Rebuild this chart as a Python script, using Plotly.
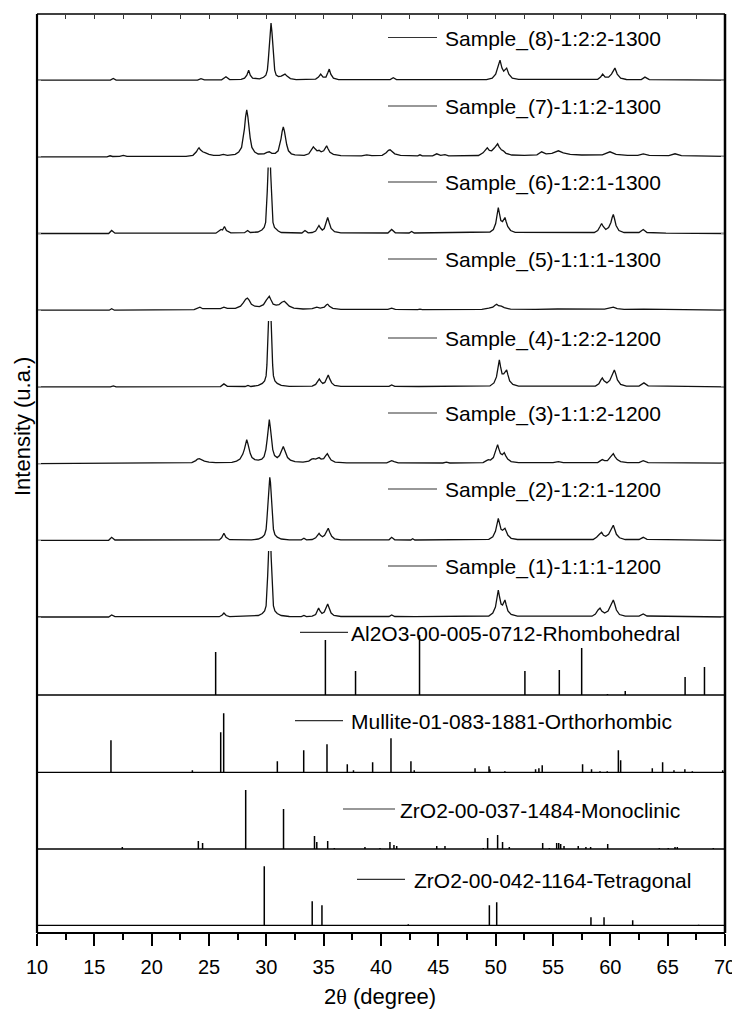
import plotly.graph_objects as go

# ---------------- data (2theta in degrees, intensity in arbitrary units) ----------------
sample_names = ["Sample_(1)-1:1:1-1200", "Sample_(2)-1:2:1-1200", "Sample_(3)-1:1:2-1200",
                "Sample_(4)-1:2:2-1200", "Sample_(5)-1:1:1-1300", "Sample_(6)-1:2:1-1300",
                "Sample_(7)-1:1:2-1300", "Sample_(8)-1:2:2-1300"]

s1 = [(10,0),(16.25,0),(16.51,2),(16.8,0.3),(25.9,0.3),(26.15,2),(26.3,4),(26.5,1.5),(26.8,0.3),
      (29.3,1.5),(29.65,3.5),(29.85,6),(29.98,11),(30.05,22),(30.12,42),(30.18,60),(30.24,85),(30.3,100),
      (30.36,85),(30.42,60),(30.48,42),(30.55,22),(30.62,11),(30.75,6),(30.95,3.5),(31.3,1.5),(32,0.5),
      (33.05,0.3),(33.28,1.5),(33.5,0.3),(34.0,0.8),(34.3,2.5),(34.45,6),(34.56,9),(34.68,6),(34.85,3.5),
      (35.05,5),(35.22,10),(35.35,13),(35.48,9),(35.65,4),(35.9,1.5),(36.5,0.5),
      (40.7,0.5),(40.93,2),(41.2,0.5),(42.6,0.3),(42.76,1),(42.95,0.3),
      (49.4,1),(49.75,4),(49.98,10),(50.12,20),(50.23,27),(50.34,20),(50.47,13),(50.6,12),(50.71,15),
      (50.81,17),(50.92,12),(51.07,6),(51.35,2.5),(51.9,0.8),
      (58.4,0.8),(58.7,3),(58.93,7),(59.1,9),(59.25,6),(59.5,4),(59.8,6),(60.02,11),(60.15,15),(60.26,17),
      (60.38,13),(60.53,7),(60.8,2.5),(61.3,0.8),(62.5,0.8),(62.87,3),(63.2,1),(70,0)]

s2 = [(10,0),(16.25,0),(16.51,3),(16.8,0.3),(25.9,0.4),(26.1,2.5),(26.3,7),(26.48,3),(26.8,0.6),
      (28.2,0.4),(28.43,1),(28.7,0.4),
      (29.3,1.3),(29.65,3.2),(29.85,5.7),(29.98,11),(30.05,21),(30.12,35),(30.18,47),(30.24,58),(30.3,63),
      (30.36,58),(30.42,47),(30.48,35),(30.55,21),(30.62,11),(30.75,5.7),(30.95,3.2),(31.3,1.3),(32,0.5),
      (33.05,0.4),(33.28,2),(33.5,0.4),
      (34.0,0.8),(34.3,2.5),(34.47,5),(34.6,7),(34.72,5),(34.9,3.5),(35.08,5),(35.27,10),(35.4,12),
      (35.53,8),(35.7,4),(35.95,1.5),(36.5,0.5),
      (40.7,0.5),(40.93,3),(41.2,0.5),(42.6,0.3),(42.76,1.5),(42.95,0.3),
      (49.4,1),(49.75,3.5),(49.98,9),(50.12,17),(50.23,22),(50.34,17),(50.47,11),(50.6,10),(50.71,11.5),
      (50.81,12),(50.92,9),(51.07,5),(51.35,2),(51.9,0.8),
      (58.5,0.8),(58.8,3),(59.05,6),(59.24,8),(59.4,5),(59.6,4),(59.85,6),(60.05,10),(60.16,13.5),
      (60.26,15),(60.38,11),(60.53,6),(60.8,2.5),(61.3,0.8),(62.5,0.8),(62.87,3),(63.2,1),(70,0)]

s3 = [(10,0),(22.5,0.3),(23.5,1),(23.85,3),(24.0,4.5),(24.16,5),(24.35,4),(24.6,2.5),(25.0,1.5),(25.6,1),
      (27.0,1.2),(27.4,2.5),(27.7,4.5),(27.95,9.5),(28.09,14.5),(28.19,20),(28.29,24),(28.39,20),
      (28.49,14.5),(28.6,10),(28.75,6),(29.0,4),(29.3,3.5),(29.6,4.5),(29.8,7),(29.96,14),(30.08,25),
      (30.17,36),(30.26,44),(30.35,36),(30.44,25),(30.56,14),(30.72,8),(30.95,6),(31.15,8),(31.3,12),
      (31.4,15),(31.48,17),(31.58,14),(31.7,10),(31.85,6),(32.1,3.5),(32.5,2),(33.2,1.5),(33.7,2.5),
      (33.95,4.5),(34.1,5),(34.3,4.5),(34.45,5.5),(34.6,6),(34.78,4.5),(35.0,5),(35.18,8),(35.32,10),
      (35.46,7),(35.65,3.5),(36.0,1.5),(37,0.8),(40.5,0.8),(40.75,2),(40.93,3),(41.15,2),(41.5,0.8),
      (45.4,0.6),(45.7,1.5),(46.0,0.6),(48.9,1),(49.2,3),(49.36,4),(49.55,3.5),(49.8,6),(50.0,13),
      (50.1,17),(50.17,19),(50.27,15),(50.42,10),(50.58,9),(50.68,10.5),(50.75,11),(50.87,8),(51.05,4.5),
      (51.35,2),(52,1),(55.0,1),(55.47,2),(55.9,1),(58.9,1),(59.15,3),(59.3,4),(59.5,3),(59.75,3),
      (60.0,6.5),(60.15,9),(60.26,10),(60.4,7),(60.6,4),(60.9,2),(61.5,1),(62.5,1),(62.87,3),(63.3,1),
      (70,0.5)]

s4 = [(10,0),(16.4,0),(16.66,1),(16.9,0),(26.0,0.3),(26.3,3),(26.6,0.5),(28.15,0.4),(28.4,1.5),(28.65,0.4),
      (29.3,1.5),(29.65,3.5),(29.85,6),(29.98,11),(30.05,22),(30.12,42),(30.18,60),(30.24,85),(30.3,100),
      (30.36,85),(30.42,60),(30.48,42),(30.55,22),(30.62,11),(30.75,6),(30.95,3.5),(31.3,1.5),(32,0.5),
      (34.0,0.8),(34.3,2.5),(34.5,5.5),(34.62,8),(34.75,5.5),(34.92,3.5),(35.1,4.5),(35.28,9.5),(35.4,12),
      (35.53,8),(35.7,4),(35.95,1.5),(36.5,0.5),
      (40.7,0.5),(40.93,2),(41.2,0.5),(42.9,0.4),(43.1,1),(43.3,0.4),
      (49.5,1),(49.85,4),(50.07,10),(50.21,20),(50.32,27),(50.43,20),(50.56,13),(50.7,13),(50.85,16),
      (50.96,17),(51.07,12),(51.22,6),(51.5,2.5),(52,0.8),
      (58.7,0.8),(59.0,3),(59.18,7),(59.3,9),(59.45,6),(59.7,4),(59.95,6.5),(60.12,11),(60.25,15.5),
      (60.35,17),(60.47,13),(60.62,7),(60.9,2.5),(61.4,0.8),(62.5,0.8),(62.93,4),(63.3,1),(70,0)]

s5 = [(10,0),(16.3,0),(16.51,1.5),(16.75,0),(23.7,0.5),(24.0,2),(24.21,3),(24.45,1.5),(25.5,1),(26.0,1.5),
      (26.3,3),(26.6,1.8),(27.3,1.8),(27.75,4),(28.0,7.5),(28.2,11),(28.35,12),(28.5,10),(28.7,6),(29.0,4),
      (29.4,3.5),(29.75,5.5),(30.0,10),(30.14,13),(30.26,14),(30.38,11),(30.6,6),(30.85,5),(31.1,5.5),
      (31.35,8),(31.57,9),(31.75,7),(32.0,4),(32.4,2),(33.2,1.2),(34.0,1.5),(34.4,3),(34.7,2),(35.05,3),
      (35.25,5.5),(35.35,6),(35.5,4),(35.8,1.8),(36.5,0.8),(40.6,0.8),(40.93,2),(41.25,0.8),(43.2,0.5),
      (43.4,1),(43.6,0.5),(48.8,0.8),(49.4,2),(49.75,3),(49.95,5),(50.09,6),(50.25,4.5),(50.5,4),
      (50.75,2.5),(51.3,1),(53.5,0.8),(55.4,1.2),(59.5,1),(59.9,2),(60.26,3),(60.6,1.5),(61.2,0.8),
      (62.9,1),(70,0)]

s6 = [(10,0),(16.25,0),(16.51,3),(16.8,0.3),(25.6,0.3),(25.85,2),(26.05,4),(26.18,3.5),(26.35,7),(26.52,3),
      (26.9,0.6),(28.1,0.8),(28.37,3),(28.6,1),
      (29.26,1.5),(29.61,3.5),(29.81,6),(29.94,11),(30.01,22),(30.08,42),(30.14,60),(30.2,85),(30.26,100),
      (30.32,85),(30.38,60),(30.44,42),(30.51,22),(30.58,11),(30.71,6),(30.91,3.5),(31.04,2.5),(31.3,1),
      (33.1,0.5),(33.37,3),(33.65,0.7),(34.0,1),(34.3,2.5),(34.46,5.5),(34.59,8),(34.72,5.5),(34.88,3.5),
      (35.05,5),(35.22,12),(35.35,16),(35.48,11),(35.65,5),(35.95,1.8),(36.5,0.6),
      (40.6,0.5),(40.93,4),(41.25,0.7),(42.45,0.5),(42.67,2),(42.9,0.5),
      (49.5,1.5),(49.8,4),(50.0,10),(50.13,20),(50.23,26),(50.33,20),(50.45,13),(50.6,12),(50.71,14.5),
      (50.81,16),(50.91,12),(51.05,7),(51.3,3),(51.7,1.2),
      (58.6,1),(58.9,3),(59.1,7),(59.24,10),(59.38,7),(59.6,4),(59.85,6),(60.05,11),(60.16,16),(60.26,19),
      (60.36,15),(60.5,8),(60.75,3),(61.2,1),(62.5,1),(62.87,4),(63.2,1),(64.4,0.4),(64.62,1),(64.85,0.4),
      (70,0)]

s7 = [(10,0),(16.1,0),(16.37,1),(16.6,0.3),(17.2,0.5),(17.53,1.5),(17.85,0.5),(23.0,0.5),(23.6,1.5),
      (23.9,5),(24.05,8),(24.13,9),(24.25,7),(24.45,5),(24.7,4),(25.0,2.5),(25.4,1.5),(25.9,1.5),
      (26.25,2.5),(26.6,1.5),
      (27.29,2.4),(27.59,4.7),(27.84,9.4),(27.99,19),(28.09,28),(28.19,40),(28.29,47),(28.39,40),
      (28.49,28),(28.59,19),(28.74,9.4),(28.99,4.7),(29.29,2.8),(29.8,3),(30.05,4.5),(30.26,5),(30.48,3.5),
      (30.78,3.5),(31.03,6),(31.18,12),(31.28,18),(31.38,25.5),(31.48,30),(31.58,25.5),(31.68,18),
      (31.78,12),(31.93,6),(32.18,3),(32.5,2),(33.3,1.5),
      (33.7,3),(33.9,6.5),(34.1,10),(34.25,8),(34.42,6),(34.6,6.5),(34.78,5),(35.0,6),(35.15,9.5),
      (35.26,11),(35.38,8),(35.55,4.5),(35.85,2.5),(36.5,1.2),(38.3,1),(38.75,2),(39.2,1.2),(40.1,1.5),
      (40.45,4),(40.65,6.5),(40.79,7),(40.95,5.5),(41.2,3),(41.7,1.5),(42.5,1),(43.2,1),(43.4,2),(43.6,1),
      (44.5,1),(44.86,3),(45.2,1.5),(45.58,2.2),(45.9,1),(48.5,1.3),(48.9,4),(49.1,7),(49.27,9),
      (49.45,6.5),(49.65,6),(49.9,9),(50.05,12),(50.17,13),(50.3,10),(50.5,7),(50.67,6),(50.9,3.5),
      (51.4,1.8),(52.5,1.5),(53.6,2),(54.01,5),(54.4,3),(54.9,3.5),(55.47,6),(55.9,4),(56.5,2.5),
      (57.5,1.8),(59.3,2),(59.97,5),(60.5,2.5),(61.5,1.5),(62.4,1.5),(62.87,3),(63.4,1.5),(65.1,1.2),
      (65.64,3),(66.2,1.2),(70,0.5)]

s8 = [(10,0),(16.4,0),(16.65,1.7),(16.9,0),(24.0,0),(24.3,1.5),(24.6,0.3),(26.1,0.3),(26.48,3.3),(26.8,0.5),
      (27.8,0.8),(28.1,2),(28.3,5),(28.46,10),(28.6,5),(28.8,2),
      (29.41,1.2),(29.76,2.8),(29.96,5),(30.09,10),(30.17,20),(30.25,34),(30.33,48),(30.41,57),(30.49,48),
      (30.57,34),(30.65,20),(30.73,10),(30.86,5),(31.06,3.5),(31.3,4),(31.5,5.5),(31.63,6),(31.8,4),
      (32.1,1.5),(32.6,0.5),(33.2,0.5),(33.37,1),(33.6,0.7),(34.3,1),(34.55,3),(34.74,6),(34.95,3),
      (35.2,3),(35.35,7),(35.49,11),(35.62,6),(35.85,2),(36.3,0.5),(40.8,0.5),(41.07,2.3),(41.35,0.5),
      (49.2,0.5),(49.7,2),(50.0,6),(50.2,13),(50.38,20),(50.55,12),(50.7,9),(50.96,12),(51.15,6),
      (51.45,2),(52,0.8),(58.9,0.8),(59.15,3),(59.33,6),(59.55,3),(59.85,3),(60.1,6),(60.4,12),
      (60.6,6),(60.9,2),(61.4,0.6),(62.7,0.5),(63.02,3),(63.4,0.5),(70,0)]

samples = [s1, s2, s3, s4, s5, s6, s7, s8]

ref_names = ["Al2O3-00-005-0712-Rhombohedral", "Mullite-01-083-1881-Orthorhombic",
             "ZrO2-00-037-1484-Monoclinic", "ZrO2-00-042-1164-Tetragonal"]

al2o3_pos = [25.58, 35.15, 37.78, 43.36, 52.55, 55.55, 57.5, 59.75, 61.3, 66.52, 68.21]
al2o3_int = [43, 55, 24, 60, 24, 25, 47, 1, 4, 18, 28]

mullite_pos = [16.45, 23.55, 26.02, 26.28, 30.96, 33.26, 35.29, 37.06, 37.6, 39.27, 40.87, 42.61, 42.9,
               48.2, 49.42, 49.5, 50.8, 53.48, 53.77, 54.06, 57.58, 58.36, 59.1, 59.73, 60.7, 60.9,
               63.66, 64.56, 65.55, 66.5, 67.15, 69.8]
mullite_int = [32, 2, 40, 59, 11, 22, 28, 8, 2, 10, 34, 11, 2,
               4, 6, 3, 1, 3, 4, 7, 8, 3, 1, 1, 22, 12,
               4, 10, 2, 3, 1, 2]

mono_pos = [17.44, 24.07, 24.44, 28.2, 31.5, 34.2, 34.4, 35.35, 35.93, 38.6, 39.91, 40.78, 41.13, 41.37,
            44.86, 45.58, 48.92, 49.3, 50.17, 50.6, 51.19, 54.1, 54.68, 55.32, 55.5, 55.67, 55.96,
            57.2, 57.87, 58.28, 59.77, 64.27, 65.05, 65.64, 65.84, 68.98]
mono_int = [2, 8, 6, 59, 40, 13, 7, 8, 1, 2, 1, 7, 4, 3,
            3, 3, 1, 11, 14, 7, 2, 6, 1, 6, 6, 5, 3,
            3, 2, 2, 5, 1, 1, 2, 2, 1]

tetra_pos = [29.82, 34.0, 34.85, 42.38, 49.45, 50.09, 58.31, 59.45, 61.95, 67.7]
tetra_int = [59, 24, 20, 1, 20, 23, 8, 8, 5, 0.6]

refs = [(al2o3_pos, al2o3_int), (mullite_pos, mullite_int), (mono_pos, mono_int), (tetra_pos, tetra_int)]

x_range = [10, 70]

# ---------------- layout geometry ----------------
# page pixels (the browser body adds an 8 px margin around the figure)
OFF = 8
W, H = 740 - OFF, 1010 - OFF
L, R, T, B = 37, 725, 14, 933          # plot frame in page pixels
PW, PH = R - L, B - T

def fx(px):
    return (px - L) / PW

def fy(py):
    return (B - py) / PH

FONT = "Liberation Sans, Arial, sans-serif"
sample_base = [617, 540.3, 463.6, 386.9, 310.2, 233.5, 156.8, 80.1]
sample_label_y = [566, 489, 413, 338, 259, 182, 106, 37.5]
ref_base = [695, 772.3, 849, 925.3]
ref_label_y = [632.3, 720.7, 809, 879.3]
ref_line_x = [(300, 348), (295, 343), (343, 395), (357, 405)]
ref_text_x = [349, 349, 398, 411.5]

fig = go.Figure()
layout_axes = {}
shapes = []
annotations = []

ax_i = 0
for k, data in enumerate(samples):
    ax_i += 1
    name = "y" if ax_i == 1 else f"y{ax_i}"
    lname = "yaxis" if ax_i == 1 else f"yaxis{ax_i}"
    xs = [p[0] for p in data]
    ys = [p[1] for p in data]
    fig.add_trace(go.Scatter(x=xs, y=ys, mode="lines", xaxis="x", yaxis=name,
                             line=dict(color="#111111", width=1.3), showlegend=False,
                             hoverinfo="skip"))
    b = sample_base[k]
    layout_axes[lname] = dict(domain=[fy(b + 6), min(1.0, fy(b - 66))], range=[-6, 66],
                              showgrid=False, zeroline=False, showticklabels=False,
                              ticks="inside", tickvals=[0], ticklen=4, tickwidth=1,
                              tickcolor="#999999", mirror="ticks", showline=False,
                              anchor="x", fixedrange=True, automargin=False)
    ly = sample_label_y[k]
    shapes.append(dict(type="line", xref="paper", yref="paper", x0=fx(388), x1=fx(437),
                       y0=fy(ly), y1=fy(ly), line=dict(color="#333333", width=1.2)))
    annotations.append(dict(text=sample_names[k], xref="paper", yref="paper", x=fx(443), y=fy(ly + 1),
                            xanchor="left", yanchor="middle", showarrow=False,
                            font=dict(family=FONT, size=21, color="black")))

for k, (pos, inten) in enumerate(refs):
    ax_i += 1
    name = f"y{ax_i}"
    lname = f"yaxis{ax_i}"
    sx, sy = [], []
    for p, h in zip(pos, inten):
        sx += [p, p, None]
        sy += [0, h, None]
    fig.add_trace(go.Scatter(x=sx, y=sy, mode="lines", xaxis="x", yaxis=name,
                             line=dict(color="black", width=1.5), showlegend=False,
                             hoverinfo="skip"))
    fig.add_trace(go.Scatter(x=x_range, y=[0, 0], mode="lines", xaxis="x", yaxis=name,
                             line=dict(color="black", width=1.3), showlegend=False,
                             hoverinfo="skip"))
    b = ref_base[k]
    layout_axes[lname] = dict(domain=[fy(b + 2), fy(b - 76)], range=[-2, 76],
                              showgrid=False, zeroline=False, showticklabels=False,
                              ticks="", showline=False, anchor="x", fixedrange=True,
                              automargin=False)
    ly = ref_label_y[k]
    x0, x1 = ref_line_x[k]
    shapes.append(dict(type="line", xref="paper", yref="paper", x0=fx(x0), x1=fx(x1),
                       y0=fy(ly), y1=fy(ly), line=dict(color="#333333", width=1.2)))
    annotations.append(dict(text=ref_names[k], xref="paper", yref="paper", x=fx(ref_text_x[k]),
                            y=fy(ly + 1), xanchor="left", yanchor="middle", showarrow=False,
                            font=dict(family=FONT, size=21, color="black")))

# invisible trace to activate the top tick axis
fig.add_trace(go.Scatter(x=x_range, y=[None, None], xaxis="x2", yaxis="y", mode="lines",
                         showlegend=False, hoverinfo="skip"))

# frame
shapes += [
    dict(type="line", xref="paper", yref="paper", x0=0, x1=0, y0=0, y1=1, line=dict(color="black", width=2.2)),
    dict(type="line", xref="paper", yref="paper", x0=1, x1=1, y0=0, y1=1, line=dict(color="black", width=2.5)),
    dict(type="line", xref="paper", yref="paper", x0=0, x1=1, y0=1, y1=1, line=dict(color="black", width=1.6)),
]

annotations += [
    dict(text="2<span style='font-family:Liberation Serif, Times New Roman, serif'>θ</span> (degree)",
         xref="paper", yref="paper", x=fx(380), y=fy(996), xanchor="center",
         yanchor="middle", showarrow=False, font=dict(family=FONT, size=22, color="black")),
    dict(text="Intensity (u.a.)", xref="paper", yref="paper", x=fx(23), y=fy(427), xanchor="center",
         yanchor="middle", textangle=-90, showarrow=False, font=dict(family=FONT, size=22, color="black")),
]

fig.update_layout(
    width=W, height=H,
    margin=dict(l=L - OFF, r=(740 - R), t=T - OFF, b=(1010 - B), pad=0, autoexpand=False),
    paper_bgcolor="white", plot_bgcolor="white", showlegend=False,
    xaxis=dict(range=x_range, anchor="free", position=0, showgrid=False, zeroline=False,
               showline=True, linecolor="black", linewidth=2, automargin=False,
               ticks="outside", tick0=10, dtick=5, ticklen=12, tickwidth=2, tickcolor="black",
               minor=dict(dtick=2.5, tick0=10, ticks="outside", ticklen=6, tickwidth=2, tickcolor="black"),
               tickfont=dict(family=FONT, size=20, color="black"), ticklabelstandoff=4,
               fixedrange=True),
    xaxis2=dict(range=x_range, overlaying="x", side="top", anchor="free", position=1,
                showgrid=False, zeroline=False, showline=False, ticks="inside", tick0=10, dtick=2.5,
                ticklen=4, tickwidth=1, tickcolor="#333333", showticklabels=False, fixedrange=True,
                automargin=False),
    shapes=shapes, annotations=annotations,
    **layout_axes,
)

fig.write_html("out.html")
